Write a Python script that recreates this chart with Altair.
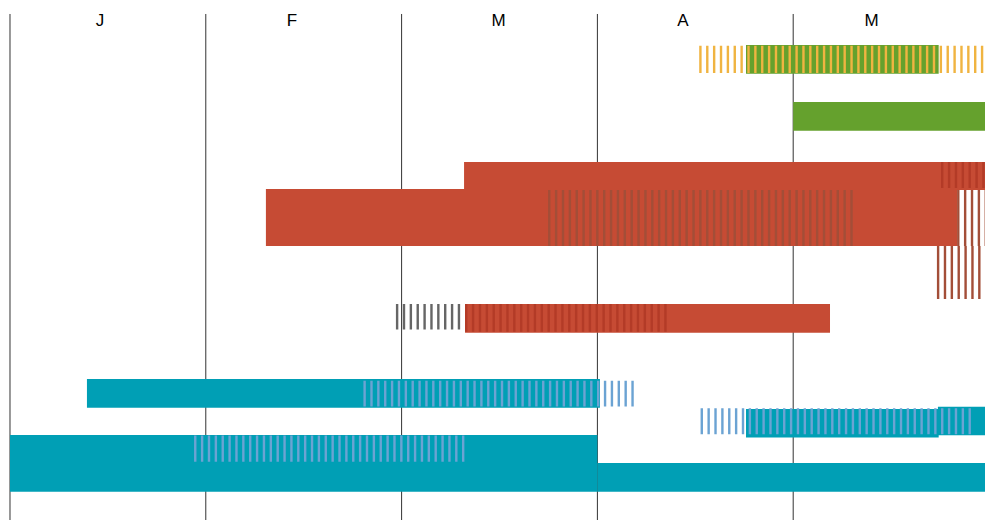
import altair as alt
import pandas as pd

# ---- colours ----
GREEN = "#65a12d"
RED = "#c64b34"
TEAL = "#009fb5"
YELLOW = "#f0b441"
DARKRED = "#b33b27"
BROWN = "#a34e38"
GREY = "#666666"
BLUE = "#6ba3d3"

# ---- axis text (months) ----
months = ["J", "F", "M", "A", "M"]
month_label_pos = [0.46, 1.44, 2.495, 3.437, 4.40]
gridlines = [0, 1, 2, 3, 4, 5]

# ---- solid bars (x in months from 1 Jan, y in lane units) ----
bar_start = [3.759, 4.0, 2.319, 1.307, 4.98, 2.324, 0.393, 3.759, 4.739, 0.0, 3.0]
bar_end = [4.743, 5.1, 5.1, 4.837, 5.1, 4.188, 3.013, 4.743, 5.1, 3.0, 5.1]
bar_top = [0.0, 2.04, 4.19, 5.16, 7.13, 9.28, 11.97, 13.05, 12.97, 13.98, 14.98]
bar_bot = [1.03, 3.07, 5.2, 7.2, 9.14, 10.31, 13.0, 14.07, 13.99, 16.01, 16.01]
bar_color = [GREEN, GREEN, RED, RED, RED, RED, TEAL, TEAL, TEAL, TEAL, TEAL]

# ---- hatched (striped) bars ----
hatch_start = [3.52, 4.755, 2.748, 4.837, 4.734, 1.971, 2.324, 1.805, 3.527, 0.94]
hatch_end = [5.02, 5.1, 4.305, 5.02, 4.98, 2.308, 3.355, 3.187, 4.911, 2.324]
hatch_top = [0.03, 4.19, 5.2, 5.2, 7.2, 9.28, 9.28, 12.03, 13.02, 14.0]
hatch_bot = [1.0, 5.13, 7.2, 7.2, 9.1, 10.2, 10.28, 12.96, 13.95, 14.94]
hatch_color = [YELLOW, DARKRED, BROWN, BROWN, BROWN, GREY, DARKRED, BLUE, BLUE, BLUE]

# ---- layout ----
W, H = 977, 512
X_DOMAIN = [-0.0102, 4.9796]
U_MIN = -1.326
PX_PER_UNIT = 27.9
U_MAX = U_MIN + H / PX_PER_UNIT
LINE_TOP = -1.111

bars = pd.DataFrame({"x0": bar_start, "x1": bar_end, "y0": bar_top,
                     "y1": bar_bot, "color": bar_color})
hatches = pd.DataFrame({"x0": hatch_start, "x1": hatch_end, "y0": hatch_top,
                        "y1": hatch_bot, "color": hatch_color})
lines = pd.DataFrame({"x": gridlines, "y0": [LINE_TOP] * len(gridlines),
                      "y1": [U_MAX + 1] * len(gridlines)})
labels = pd.DataFrame({"pos": month_label_pos, "label": months})

xs = alt.Scale(domain=X_DOMAIN, nice=False, zero=False)
ys = alt.Scale(domain=[U_MIN, U_MAX], nice=False, zero=False, reverse=True)

grid = alt.Chart(lines).mark_rule(color="#333333", strokeWidth=1, clip=True).encode(
    x=alt.X("x:Q", scale=xs, axis=None),
    y=alt.Y("y0:Q", scale=ys, axis=None),
    y2="y1:Q",
)

solid = alt.Chart(bars).mark_rect(clip=True).encode(
    x=alt.X("x0:Q", scale=xs, axis=None),
    x2="x1:Q",
    y=alt.Y("y0:Q", scale=ys, axis=None),
    y2="y1:Q",
    color=alt.Color("color:N", scale=None),
)

stripes = alt.Chart(hatches).transform_calculate(
    ym="(datum.y0 + datum.y1) / 2",
    thick=f"(datum.y1 - datum.y0) * {PX_PER_UNIT}",
).mark_rule(strokeDash=[2.4, 4.47], strokeCap="butt", clip=True).encode(
    x=alt.X("x0:Q", scale=xs, axis=None),
    x2="x1:Q",
    y=alt.Y("ym:Q", scale=ys, axis=None),
    size=alt.Size("thick:Q", scale=None),
    color=alt.Color("color:N", scale=None),
)

text = alt.Chart(labels).mark_text(
    fontSize=17, baseline="alphabetic", align="center",
    font="Liberation Sans", color="#000000",
).encode(
    x=alt.X("pos:Q", scale=xs, axis=None),
    y=alt.datum(-0.69, scale=ys),
    text="label:N",
)

chart = alt.layer(grid, solid, stripes, text).properties(
    width=W, height=H, padding=0, autosize=alt.AutoSizeParams(type="none"),
    background="white",
).configure_view(stroke=None)

chart.save("out.html", embed_options={"renderer": "svg", "actions": False})
